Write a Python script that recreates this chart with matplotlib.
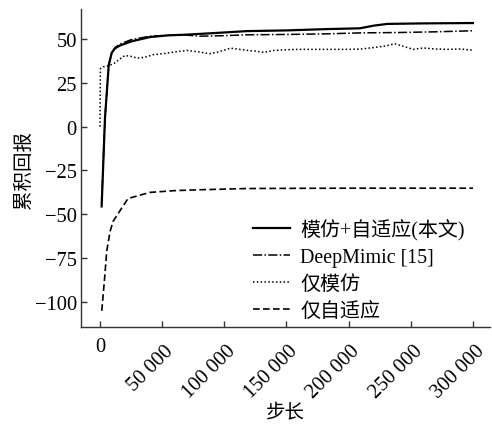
import matplotlib
matplotlib.use("Agg")
import matplotlib.pyplot as plt
import matplotlib.transforms as mtransforms
import numpy as np

plt.rcParams['font.family'] = ['Liberation Serif', 'Noto Sans CJK SC']
plt.rcParams['axes.unicode_minus'] = True

# Data
ours_x = [1300, 4000, 7000, 9400, 12000, 16000, 25000, 40000, 55000, 67000, 90000, 118000,
          150000, 180000, 209000, 220000, 231000, 260000, 300000]
ours_y = [-45.5, 5, 35, 42, 44.5, 46.2, 48.5, 51, 52, 52.3, 53.2, 54.4,
          54.8, 55.5, 56, 57.5, 58.5, 58.8, 59]

dm_x = [1300, 4000, 7000, 9400, 12000, 16000, 25000, 40000, 55000, 67000, 80000, 100000,
        118000, 150000, 180000, 210000, 240000, 270000, 300000]
dm_y = [-44, 5, 35, 42, 45, 47, 49.5, 51.5, 52, 52.3, 51.5, 51.8,
        52.3, 52.5, 52.8, 53.4, 53.6, 54, 54.6]

imit_x = [0, 300, 2500, 6000, 11000, 15000, 20000, 25000, 30000, 36000, 43000, 50000, 60000,
          70000, 80000, 88000, 95000, 105000, 112000, 118000, 125000, 132000, 140000, 150000,
          160000, 170000, 180000, 190000, 200000, 210000, 220000, 230000, 237000, 245000,
          252000, 260000, 270000, 280000, 290000, 300000]
imit_y = [0, 33, 34, 34.5, 35.8, 38, 40.5, 40, 39, 39.5, 41, 41.5, 42.5,
          43.4, 42.5, 41.5, 42.5, 44.7, 44, 43.5, 43, 42.3, 43.4, 43.8,
          44, 44, 44, 44, 44, 44.2, 45, 46, 47.2, 45.5,
          44, 44.8, 44.2, 44, 44.2, 43.5]

adapt_x = [1400, 3500, 5400, 8000, 10500, 16000, 22500, 30000, 40000, 60000, 80000, 118000,
           150000, 200000, 250000, 300000]
adapt_y = [-105, -88, -71, -60, -54, -48, -41, -39.5, -37.5, -36.5, -36, -35.3,
           -35.2, -35.1, -35.1, -35.1]

labels = ['模仿+自适应(本文)', 'DeepMimic [15]', '仅模仿', '仅自适应']
xticks = [0, 50000, 100000, 150000, 200000, 250000, 300000]
xtick_labels = ['0', '50 000', '100 000', '150 000', '200 000', '250 000', '300 000']
yticks = [-100, -75, -50, -25, 0, 25, 50]

fig = plt.figure(figsize=(4.92, 4.27), dpi=100)
ax = fig.add_axes([81/492, 1 - 328/427, (490-81)/492, (328-10)/427])

ax.plot(ours_x, ours_y, color='black', lw=1.6, ls='-', label=labels[0])
ax.plot(dm_x, dm_y, color='black', lw=1.1, ls=(0, (6, 1.5, 1, 1.5)), label=labels[1])
ax.plot(imit_x, imit_y, color='black', lw=1.1, ls=(0, (1, 1.5)), label=labels[2])
ax.plot(adapt_x, adapt_y, color='black', lw=1.2, ls=(0, (4, 2)), label=labels[3])

ax.set_xlim(-15300, 313700)
ax.set_ylim(-114.2, 67)
ax.set_xticks(xticks)
ax.set_xticklabels(xtick_labels, rotation=45, ha='right', va='top', rotation_mode='anchor')
ax.set_yticks(yticks)
ax.set_yticklabels([('\u2212' + str(-v)) if v < 0 else str(v) for v in yticks])
for s in ['top', 'right']:
    ax.spines[s].set_visible(False)
for s in ['left', 'bottom']:
    ax.spines[s].set_color('#333333')
    ax.spines[s].set_linewidth(1.0)
ax.tick_params(direction='in', length=4, width=1, colors='#333333', labelcolor='black',
               labelsize=14.8)
ax.tick_params(axis='y', pad=3)
ax.tick_params(axis='x', pad=10)

xt_labels = ax.get_xticklabels()
for i, lab in enumerate(xt_labels):
    if i == 0:
        lab.set_rotation(0)
        lab.set_ha('center')
        off = mtransforms.ScaledTranslation(0, 4/100, fig.dpi_scale_trans)
    else:
        off = mtransforms.ScaledTranslation(2/100, 0, fig.dpi_scale_trans)
    lab.set_transform(lab.get_transform() + off)

ax.set_ylabel('累积回报', fontsize=14)
ax.yaxis.set_label_coords(-0.117, 0.497)
ax.set_xlabel('步长', fontsize=14)
ax.xaxis.set_label_coords(0.501, -0.24)

leg = ax.legend(loc='upper left', bbox_to_anchor=(0.4205, 0.34), frameon=False, fontsize=14.4,
                handlelength=1.85, handletextpad=0.5, labelspacing=0.39, borderpad=0,
                borderaxespad=0)

fig.savefig('out.png', dpi=100)
